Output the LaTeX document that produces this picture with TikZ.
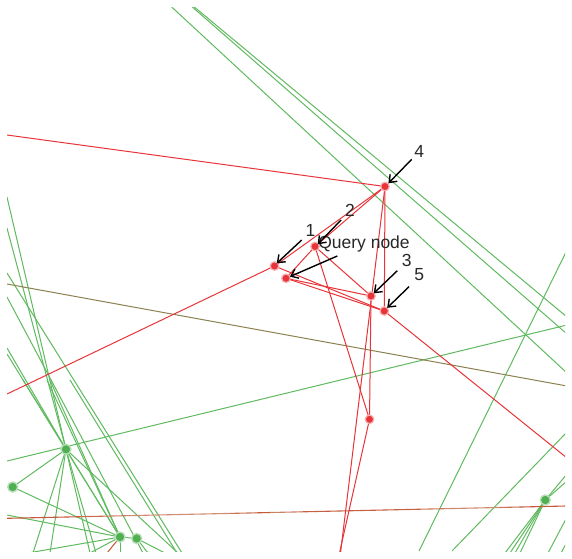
\documentclass[tikz,border=0pt]{standalone}
\usepackage{fontspec}
\setmainfont{Liberation Sans}
\usetikzlibrary{arrows.meta}
\definecolor{redE}{RGB}{232,52,56}
\definecolor{greenE}{RGB}{96,186,96}
\definecolor{greenN}{RGB}{80,175,80}
\definecolor{oliveE}{RGB}{140,130,80}
\definecolor{brownE}{RGB}{196,88,56}
\definecolor{tanE}{RGB}{215,170,145}
\definecolor{txt}{RGB}{40,40,40}
\tikzset{
  redge/.style={draw=redE, line width=1pt},
  gedge/.style={draw=greenE, line width=1pt},
  rnode/.style={circle, fill=redE, inner sep=0pt, minimum size=8.5pt, draw=redE!40, line width=1.2pt},
  gnode/.style={circle, fill=greenN, inner sep=0pt, minimum size=10pt, draw=greenN!40, line width=1.4pt},
  lab/.style={text=txt, font=\fontsize{17.5}{17.5}\selectfont, inner sep=0pt},
  arr/.style={draw=black, line width=1.4pt, -{Straight Barb[length=6.5pt,width=10pt,line width=1.4pt]}, shorten >=1pt}
}
\begin{document}
\begin{tikzpicture}[x=1pt,y=-1pt]
\useasboundingbox (0,0) rectangle (572,558);
\fill[white] (0,0) rectangle (572,558);
% red nodes
\coordinate (n4) at (385,186.5);
\coordinate (n2) at (315,246.5);
\coordinate (n1) at (274.5,266);
\coordinate (nq) at (286,278.3);
\coordinate (n3) at (371,296);
\coordinate (n5) at (384.3,311);
\coordinate (n6) at (369.5,419.3);
% green nodes
\coordinate (g1) at (66,449.3);
\coordinate (g2) at (12.7,487);
\coordinate (g3) at (120,537);
\coordinate (g4) at (136.7,538.5);
\coordinate (gr) at (545.3,500);
% free ends
\coordinate (e1) at (7,135);
\coordinate (e2) at (7,394);
\coordinate (e3) at (339.5,553);
\coordinate (e4) at (340.5,553);
\coordinate (e5) at (567,458);
\coordinate (t1) at (171.7,7);
\coordinate (t2) at (192.3,7);
\coordinate (t3) at (194.3,7);
\coordinate (r1) at (567,373);
\coordinate (r2) at (567,334);
\coordinate (r3) at (567,317);
\coordinate (b1) at (7,461);
\coordinate (b2) at (567,325);
\coordinate (c1) at (419,551);
\coordinate (c2) at (567,250);
\coordinate (d1) at (452,551);
\coordinate (d2) at (567,432);
\coordinate (o1) at (7,284);
\coordinate (o2) at (567,386);
\coordinate (h3) at (107,553);
\begin{scope}
\clip (7,7) rectangle (565,551);
% green top lines
\draw[gedge] (t1) -- (r1);
\draw[gedge] (t2) -- (r2);
\draw[gedge] (t3) -- (r3);
\draw[gedge] (b1) -- (b2);
\draw[gedge] (c1) -- (c2);
\draw[gedge] (d1) -- (d2);
% right node edges
\draw[gedge] (gr) -- (505,553);
\draw[gedge] (gr) -- (510,553);
\draw[gedge] (gr) -- (515,553);
\draw[gedge] (gr) -- (520,553);
\draw[gedge] (gr) -- (567,474);
\draw[gedge] (gr) -- (567,481);
\draw[gedge] (548,553) -- (567,517);
\draw[gedge] (561,553) -- (567,542);
% left cluster
\draw[gedge] (7,197) -- (g1);
\draw[gedge] (7,228) -- (g1);
\draw[gedge] (7,348) -- (g1);
\draw[gedge] (7,354) -- (g1);
\draw[gedge] (7,273) -- (182,553);
\draw[gedge] (7,297) -- (143,553);
\draw[gedge] (g1) -- (g2);
\draw[gedge] (g1) -- (g3);
\draw[gedge] (g1) -- (33,553);
\draw[gedge] (g1) -- (50,553);
\draw[gedge] (g1) -- (90,553);
\draw[gedge] (g1) -- (96,553);
\draw[gedge] (g1) -- (178,553);
\draw[gedge] (g2) -- (g3);
\draw[gedge] (7,515) -- (g3);
\draw[gedge] (23,380) -- (g3);
\draw[gedge] (47,380) -- (g3);
\draw[gedge] (50,380) -- (g3);
\draw[gedge] (70,380) -- (177,553);
\draw[gedge] (g3) -- (g4);
\draw[gedge] (g3) -- (90,553);
\draw[gedge] (g3) -- (28,553);
\draw[gedge] (g3) -- (120,553);
\draw[gedge] (g4) -- (165,553);
\draw[gedge] (g4) -- (148,553);
% olive line
\draw[draw=oliveE, line width=1pt] (o1) -- (o2);
% brown line with lighter stretches
\foreach \xa/\xb/\p in {7/80/100, 80/105/75, 105/130/50, 130/230/35, 230/255/65, 255/270/100, 270/300/50, 300/420/90, 420/445/60, 445/500/40, 500/520/70, 520/567/100}{
  \draw[draw=brownE!\p!tanE, line width=1.1pt] (\xa,{518.3-0.022*(\xa-7)}) -- (\xb,{518.3-0.022*(\xb-7)});
}
\draw[draw=brownE, line width=1pt] (g3) -- (h3);
% red edges
\draw[redge] (e1) -- (n4);
\draw[redge] (n1) -- (e2);
\draw[redge] (n1) -- (n4);
\draw[redge] (n2) -- (n4);
\draw[redge] (n2) -- (nq);
\draw[redge] (n1) -- (n5);
\draw[redge] (nq) -- (n3);
\draw[redge] (nq) -- (n5);
\draw[redge] (n2) -- (n3);
\draw[redge] (n2) -- (n6);
\draw[redge] (n4) -- (n5);
\draw[redge] (n4) -- (e4);
\draw[redge] (n3) -- (n6);
\draw[redge] (n6) -- (e3);
\draw[redge] (n5) -- (e5);
\end{scope}
% node dots
\foreach \p in {n1,n2,n3,n4,n5,nq,n6} \node[rnode] (d\p) at (\p) {};
\foreach \p in {g1,g2,g3,g4,gr} \node[gnode] (d\p) at (\p) {};
% labels
\node[lab] (l4) at (419.3,151) {4};
\node[lab] (l2) at (350,210) {2};
\node[lab] (l1) at (310.5,230) {1};
\node[lab] (lq) at (364,243.5) {Query node};
\node[lab] (l3) at (406.7,260) {3};
\node[lab] (l5) at (419.3,275) {5};
\coordinate (a4) at (411.7,159.3);
\coordinate (a2) at (341,220);
\coordinate (a1) at (301.7,240);
\coordinate (aq) at (337.3,256);
\coordinate (a3) at (397.3,270.7);
\coordinate (a5) at (409,286.7);
\draw[arr] (a4) -- (387.7,184);
\draw[arr] (a2) -- (317,245);
\draw[arr] (a1) -- (276,264);
\draw[arr] (aq) -- (289,277);
\draw[arr] (a3) -- (373,294);
\draw[arr] (a5) -- (386.5,308.5);
\end{tikzpicture}
\end{document}
